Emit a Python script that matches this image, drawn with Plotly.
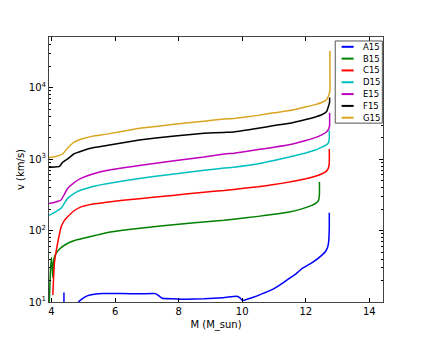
import plotly.graph_objects as go

names = ["A15", "B15", "C15", "D15", "E15", "F15", "G15"]
colors = ["#0000ff", "#008000", "#ff0000", "#00bfbf", "#bf00bf", "#000000", "#daa520"]

# A15 has a short spike near 4.4 and then the main branch
a15_spike_m = [4.39, 4.39]
a15_spike_v = [10.0, 13.6]
a15_m = [4.84, 4.95, 5.12, 5.35, 5.63, 6.2, 6.8, 7.27, 7.35, 7.48, 7.8, 8.19, 8.8, 9.4, 9.83, 9.93, 10.01,
         10.2, 10.45, 10.7, 10.96, 11.2, 11.48, 11.7, 11.89, 12.0, 12.2, 12.5, 12.62, 12.69, 12.72, 12.74, 12.74]
a15_v = [10.0, 11.0, 12.2, 12.8, 13.1, 13.1, 13.0, 13.1, 12.5, 11.3, 11.1, 10.9, 11.1, 11.5, 12.0, 11.4, 10.45,
         11.1, 12.1, 13.4, 15.0, 17.5, 21.4, 25.0, 29.5, 31.5, 35.5, 45.0, 51.0, 59.0, 70.0, 110.0, 178.0]

b15_m = [3.93, 3.95, 3.97, 4.0, 4.02, 4.04, 4.06, 4.1, 4.2, 4.35, 4.5, 4.7, 5.0, 5.4, 5.73, 6.5, 7.5, 8.5,
         9.43, 9.73, 10.5, 11.0, 11.48, 11.9, 12.19, 12.32, 12.4, 12.43, 12.43]
b15_v = [10.0, 18.0, 30.0, 42.0, 30.0, 22.0, 35.0, 44.0, 52.0, 60.0, 66.0, 72.0, 78.0, 86.0, 93.0, 104.0, 117.0, 129.0,
         139.0, 144.0, 158.0, 169.0, 182.0, 203.0, 225.0, 242.0, 264.0, 320.0, 477.0]

c15_m = [4.04, 4.06, 4.09, 4.14, 4.19, 4.25, 4.3, 4.4, 4.5, 4.7, 4.91, 5.3, 5.73, 6.76, 7.8, 8.8, 9.43, 9.73,
         10.5, 11.0, 11.48, 12.0, 12.3, 12.5, 12.65, 12.72, 12.74, 12.74]
c15_v = [12.5, 20.0, 35.0, 50.0, 66.0, 90.0, 112.0, 138.0, 155.0, 188.0, 213.0, 235.0, 250.0, 280.0, 310.0, 345.0, 364.0, 377.0,
         410.0, 440.0, 477.0, 530.0, 575.0, 620.0, 680.0, 770.0, 900.0, 1390.0]

d15_m = [3.92, 4.1, 4.25, 4.3, 4.4, 4.5, 4.7, 4.91, 5.3, 5.73, 6.76, 7.8, 8.8, 9.43, 9.73, 10.5, 11.0, 11.48,
         12.0, 12.3, 12.5, 12.65, 12.72, 12.74, 12.74]
d15_v = [163.0, 180.0, 198.0, 205.0, 240.0, 280.0, 330.0, 366.0, 415.0, 453.0, 535.0, 615.0, 700.0, 750.0, 770.0, 860.0, 960.0, 1070.0,
         1220.0, 1340.0, 1470.0, 1580.0, 1720.0, 1950.0, 2510.0]

e15_m = [3.92, 4.1, 4.25, 4.3, 4.4, 4.5, 4.7, 4.91, 5.3, 5.73, 6.76, 7.8, 8.8, 9.43, 9.73, 10.5, 11.0, 11.48,
         12.0, 12.3, 12.5, 12.65, 12.72, 12.75, 12.75]
e15_v = [240.0, 250.0, 262.0, 268.0, 320.0, 386.0, 465.0, 534.0, 620.0, 694.0, 816.0, 940.0, 1070.0, 1180.0, 1210.0, 1360.0, 1470.0, 1590.0,
         1820.0, 2000.0, 2190.0, 2400.0, 2630.0, 3000.0, 4450.0]

f15_m = [3.92, 4.1, 4.25, 4.35, 4.5, 4.7, 5.0, 5.3, 5.73, 6.76, 7.8, 8.8, 9.43, 9.73, 10.5, 11.0, 11.48,
         12.0, 12.3, 12.5, 12.65, 12.72, 12.75, 12.75]
f15_v = [770.0, 775.0, 790.0, 905.0, 1000.0, 1180.0, 1320.0, 1440.0, 1550.0, 1850.0, 2100.0, 2300.0, 2370.0, 2400.0, 2700.0, 2950.0, 3170.0,
         3600.0, 3900.0, 4180.0, 4600.0, 5600.0, 6300.0, 7300.0]

g15_m = [3.92, 4.1, 4.25, 4.35, 4.5, 4.7, 5.0, 5.3, 5.73, 6.76, 7.8, 8.8, 9.43, 9.73, 10.5, 11.0, 11.48,
         12.0, 12.3, 12.5, 12.65, 12.72, 12.76, 12.76, 12.76]
g15_v = [1050.0, 1080.0, 1130.0, 1180.0, 1420.0, 1720.0, 1950.0, 2100.0, 2240.0, 2700.0, 3050.0, 3400.0, 3650.0, 3720.0, 4100.0, 4450.0, 4780.0,
         5400.0, 5800.0, 6200.0, 6800.0, 7800.0, 9000.0, 20000.0, 33000.0]

y_minor = [v * d for v in [10, 100, 1000, 10000] for d in range(2, 10)]

series = [(a15_m, a15_v), (b15_m, b15_v), (c15_m, c15_v), (d15_m, d15_v),
          (e15_m, e15_v), (f15_m, f15_v), (g15_m, g15_v)]

fig = go.Figure()

fig.add_trace(go.Scatter(x=a15_spike_m, y=a15_spike_v, mode="lines",
                         line=dict(color=colors[0], width=1.5), showlegend=False, hoverinfo="skip"))

for name, color, (m, v) in zip(names, colors, series):
    fig.add_trace(go.Scatter(x=m, y=v, mode="lines", name=name, showlegend=False,
                             line=dict(color=color, width=1.5, shape="spline", smoothing=0.3)))

# matplotlib-style compact legend box in the upper right corner
fig.add_shape(type="rect", xref="paper", yref="paper", x0=0.857, x1=0.998, y0=0.675, y1=0.985,
              line=dict(color="#555", width=1), fillcolor="white", layer="above")
row_h = 0.0446
for i, (name, color) in enumerate(zip(names, colors)):
    yy = 0.963 - i * row_h
    fig.add_shape(type="line", xref="paper", yref="paper", x0=0.876, x1=0.912, y0=yy, y1=yy,
                  line=dict(color=color, width=2), layer="above")
    fig.add_annotation(text=name, xref="paper", yref="paper", x=0.935, y=yy,
                       xanchor="left", yanchor="middle", showarrow=False,
                       font=dict(size=8.5, color="black"))

fig.update_layout(
    width=427,
    height=340,
    paper_bgcolor="white",
    plot_bgcolor="white",
    margin=dict(l=33, r=52, t=29, b=46),
    font=dict(family="DejaVu Sans", size=10, color="black"),
    showlegend=False,
)

fig.update_xaxes(
    range=[3.92, 14.43],
    tickvals=[4, 6, 8, 10, 12, 14],
    ticks="inside", ticklen=4, tickcolor="black",
    showline=True, linecolor="#444", linewidth=1, mirror="ticks",
    showgrid=False, zeroline=False,
    title=dict(text="M (M_sun)", standoff=4, font=dict(size=10)),
    tickfont=dict(size=10),
)

fig.update_yaxes(
    type="log",
    range=[1, 4.71],
    tickvals=[10, 100, 1000, 10000],
    ticktext=["10<sup>1</sup>", "10<sup>2</sup>", "10<sup>3</sup>", "10<sup>4</sup>"],
    ticks="inside", ticklen=4, tickcolor="black",
    minor=dict(tickvals=y_minor, ticks="inside", ticklen=2, tickcolor="black", showgrid=False),
    showline=True, linecolor="#444", linewidth=1, mirror="ticks",
    showgrid=False, zeroline=False,
    title=dict(text="v (km/s)", standoff=2, font=dict(size=10)),
    tickfont=dict(size=10),
)

fig.write_html("out.html")
